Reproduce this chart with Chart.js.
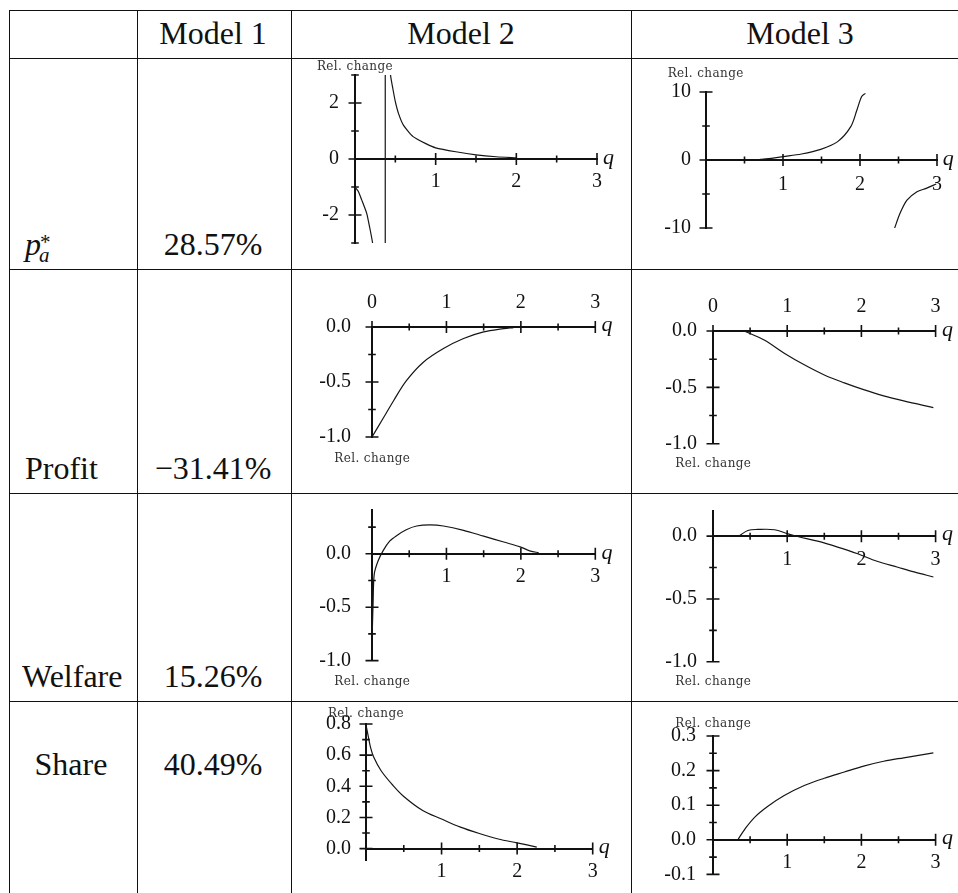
<!DOCTYPE html>
<html><head><meta charset="utf-8">
<script src="https://cdn.jsdelivr.net/npm/chart.js@4.4.0/dist/chart.umd.min.js"></script>
<style>
html,body{margin:0;padding:0;background:#fff;width:958px;height:893px;overflow:hidden;position:relative;font-family:'Liberation Serif',serif;color:#111}
.hl{position:absolute;height:1px;background:#111}
.vl{position:absolute;width:1px;background:#111}
.t{position:absolute;font-size:32px;line-height:32px;white-space:nowrap}
.cv{position:absolute}
.rel{position:absolute;font-family:'DejaVu Serif',serif;font-size:12px;letter-spacing:0.4px;color:#333;white-space:nowrap;transform:translate(-50%,-50%);line-height:1}
.q{position:absolute;font-family:'Liberation Serif',serif;font-style:italic;font-size:22px;line-height:22px;color:#111}
</style></head><body>
<script>
// ---------- table text ----------
const columnHeaders = ['Model 1', 'Model 2', 'Model 3'];
const rowLabels = ['p', 'Profit', 'Welfare', 'Share'];
const model1Values = ['28.57%', '\u221231.41%', '15.26%', '40.49%'];

// ---------- tick labels ----------
const qLabelsBelow = [1, 2, 3];
const qLabelsAbove = [0, 1, 2, 3];
const m2PriceYLabels = [-2, 0, 2];
const m3PriceYLabels = [-10, 0, 10];
const profitYLabels = [-1, -0.5, 0];
const welfareYLabels = [-1, -0.5, 0];
const m2ShareYLabels = [0, 0.2, 0.4, 0.6, 0.8];
const m3ShareYLabels = [-0.1, 0, 0.1, 0.2, 0.3];
const yAxisTitle = 'Rel. change';
const xAxisTitle = 'q';

// ---------- series (q, relative change); null = break ----------
const m2PriceQ   = [0, 0.04, 0.083, 0.145, 0.186, 0.218, 0.24, 0.3, 0.375, 0.375, 0.4, 0.43, 0.44, 0.47, 0.5, 0.54, 0.6, 0.72, 0.885, 1.0, 1.25, 1.5, 1.75, 2.0];
const m2PriceVal = [-1, -1.15, -1.46, -1.94, -2.5, -3.0, -3.5, null, -3.3, 3.3, null, 3.6, 3.0, 2.5, 2.05, 1.62, 1.21, 0.80, 0.54, 0.40, 0.26, 0.15, 0.08, 0.04];

const m3PriceQ   = [0.7, 0.85, 1.0, 1.24, 1.49, 1.71, 1.88, 1.96, 2.02, 2.07, 2.2, 2.45, 2.52, 2.61, 2.74, 2.86, 2.99];
const m3PriceVal = [0.1, 0.25, 0.49, 0.88, 1.57, 2.7, 4.9, 7.35, 9.3, 9.8, null, -10, -7.84, -5.9, -4.66, -4.17, -3.53];

const m2ProfitQ   = [0, 0.15, 0.29, 0.46, 0.69, 0.96, 1.23, 1.5, 1.77, 1.9];
const m2ProfitVal = [-1.0, -0.83, -0.67, -0.49, -0.32, -0.196, -0.105, -0.045, -0.015, -0.005];

const m3ProfitQ   = [0.42, 0.69, 0.96, 1.23, 1.5, 1.77, 2.03, 2.30, 2.57, 2.97];
const m3ProfitVal = [0, -0.08, -0.197, -0.30, -0.39, -0.46, -0.52, -0.575, -0.62, -0.68];

const m2WelfareQ   = [0.005, 0.015, 0.03, 0.08, 0.15, 0.24, 0.33, 0.46, 0.6, 0.78, 0.96, 1.23, 1.5, 1.77, 1.99, 2.13, 2.24];
const m2WelfareVal = [-0.7, -0.45, -0.19, -0.07, 0.03, 0.12, 0.17, 0.225, 0.26, 0.27, 0.26, 0.22, 0.165, 0.11, 0.065, 0.025, 0.01];

const m3WelfareQ   = [0.36, 0.47, 0.6, 0.83, 1.0, 1.14, 1.41, 1.68, 1.95, 2.21, 2.48, 2.71, 2.97];
const m3WelfareVal = [0.005, 0.045, 0.053, 0.051, 0.02, -0.003, -0.04, -0.087, -0.14, -0.20, -0.246, -0.285, -0.325];

const m2ShareQ   = [0, 0.03, 0.06, 0.1, 0.2, 0.35, 0.5, 0.75, 1.0, 1.25, 1.5, 1.75, 2.0, 2.26];
const m2ShareVal = [0.795, 0.72, 0.65, 0.59, 0.50, 0.41, 0.335, 0.245, 0.19, 0.138, 0.097, 0.062, 0.037, 0.01];

const m3ShareQ   = [0.34, 0.43, 0.56, 0.74, 0.96, 1.23, 1.5, 1.77, 2.03, 2.3, 2.57, 2.97];
const m3ShareVal = [0.002, 0.031, 0.065, 0.097, 0.128, 0.157, 0.178, 0.196, 0.213, 0.227, 0.237, 0.251];

// ---------- layout (page pixels of each plot box) ----------
const specs = [
  {q:m2PriceQ,  v:m2PriceVal,  L:355,   R:597,   T:75,    B:243,   ymin:-3,   ymax:3,    yStep:1,    yLabels:m2PriceYLabels, dec:0, xTop:false, xLabels:qLabelsBelow, relAt:'top', relDy:-9,  yPad:16, xPad:11, tension:0.2},
  {q:m3PriceQ,  v:m3PriceVal,  L:705.7, R:936.7, T:92.3,  B:228.3, ymin:-10,  ymax:10,   yStep:5,    yLabels:m3PriceYLabels, dec:0, xTop:false, xLabels:qLabelsBelow, relAt:'top', relDy:-19, yPad:15, xPad:13, tension:0.3},
  {q:m2ProfitQ, v:m2ProfitVal, L:372.3, R:595,   T:326.7, B:436.7, ymin:-1,   ymax:0,    yStep:0.25, yLabels:profitYLabels,  dec:1, xTop:true,  xLabels:qLabelsAbove, relAt:'bottom', relDy:21, yPad:21, xPad:12, tension:0.35},
  {q:m3ProfitQ, v:m3ProfitVal, L:713.3, R:936.7, T:331,   B:444.3, ymin:-1,   ymax:0,    yStep:0.25, yLabels:profitYLabels,  dec:1, xTop:true,  xLabels:qLabelsAbove, relAt:'bottom', relDy:19, yPad:16, xPad:12, tension:0.35},
  {q:m2WelfareQ,v:m2WelfareVal,L:372.3, R:595,   T:510.3, B:661.7, ymin:-1,   ymax:0.41, yStep:0.25, yLabels:welfareYLabels, dec:1, xTop:false, xLabels:qLabelsBelow, relAt:'bottom', relDy:20, yPad:21, xPad:11, tension:0.3},
  {q:m3WelfareQ,v:m3WelfareVal,L:713.3, R:936.7, T:510.5, B:661.7, ymin:-1,   ymax:0.2,  yStep:0.25, yLabels:welfareYLabels, dec:1, xTop:false, xLabels:qLabelsBelow, relAt:'bottom', relDy:20, yPad:16, xPad:12, tension:0.35},
  {q:m2ShareQ,  v:m2ShareVal,  L:366,   R:593.3, T:724.3, B:860,   ymin:-0.075,ymax:0.8, yStep:0.1,  yLabels:m2ShareYLabels, dec:1, xTop:false, xLabels:qLabelsBelow, relAt:'top', relDy:-11, yPad:15, xPad:11, tension:0.35},
  {q:m3ShareQ,  v:m3ShareVal,  L:713.3, R:936.7, T:735.7, B:873.3, ymin:-0.1, ymax:0.3,  yStep:0.05, yLabels:m3ShareYLabels, dec:1, xTop:false, xLabels:qLabelsBelow, relAt:'top', relDy:-13, yPad:17, xPad:11, tension:0.35}
];

// ---------- table frame ----------
function hline(y, x1, x2){ const d=document.createElement('div'); d.className='hl'; d.style.left=x1+'px'; d.style.top=y+'px'; d.style.width=(x2-x1)+'px'; document.body.appendChild(d); }
function vline(x, y1, y2){ const d=document.createElement('div'); d.className='vl'; d.style.left=x+'px'; d.style.top=y1+'px'; d.style.height=(y2-y1)+'px'; document.body.appendChild(d); }
[10, 58, 269, 493, 701].forEach(y => hline(y, 9, 958));
[9, 137, 291, 631].forEach(x => vline(x, 10, 893));

function text(str, baseline, opts){
  const d = document.createElement('div');
  d.className = 't';
  d.textContent = str;
  const fs = opts.fs || 32;
  d.style.fontSize = fs + 'px'; d.style.lineHeight = fs + 'px';
  d.style.top = (baseline - 0.8375 * fs) + 'px';
  if (opts.italic) d.style.fontStyle = 'italic';
  if (opts.center !== undefined){ d.style.left = (opts.center - 150) + 'px'; d.style.width = '300px'; d.style.textAlign = 'center'; }
  else d.style.left = opts.left + 'px';
  document.body.appendChild(d);
  return d;
}
const headerCenters = [213, 461, 800];
columnHeaders.forEach((h, i) => text(h, 44, {center: headerCenters[i]}));

const rowBaselines = [255, 479, 687, 775];
// p_a^*
text(rowLabels[0], 255, {left: 25, italic: true});
text('*', 250, {left: 40, fs: 21});
text('a', 263, {left: 39, fs: 21, italic: true});
text(rowLabels[1], rowBaselines[1], {left: 25});
text(rowLabels[2], rowBaselines[2], {left: 22});
text(rowLabels[3], rowBaselines[3], {center: 71});
model1Values.forEach((v, i) => text(v, rowBaselines[i], {center: 213}));

// ---------- charts ----------
const crossTicks = {
  id: 'crossTicks',
  afterDraw(chart){
    const {ctx} = chart; const x = chart.scales.x, y = chart.scales.y;
    const x0 = x.getPixelForValue(0), y0 = y.getPixelForValue(0);
    ctx.save(); ctx.strokeStyle = '#111'; ctx.lineWidth = 1.6; ctx.beginPath();
    x.ticks.forEach(t => {
      if (t.value < x.min - 1e-9 || t.value > x.max + 1e-9) return;
      const px = x.getPixelForValue(t.value); const len = t.label ? 6 : 3.5;
      ctx.moveTo(px, y0 - len); ctx.lineTo(px, y0 + len);
    });
    y.ticks.forEach(t => {
      if (t.value < y.min - 1e-9 || t.value > y.max + 1e-9) return;
      const py = y.getPixelForValue(t.value); const len = t.label ? 6.5 : 3.8;
      ctx.moveTo(x0 - len, py); ctx.lineTo(x0 + len, py);
    });
    ctx.stroke(); ctx.restore();
  }
};

const has = (arr, v) => arr.some(t => Math.abs(t - v) < 1e-6);

specs.forEach(s => {
  const padL = 75, padR = 45, padT = 45, padB = 45;
  const yAxisW = 70, xAxisH = 40;
  const w = s.R - s.L, h = s.B - s.T;
  const cw = Math.round(w + padL + padR), ch = Math.round(h + padT + padB);
  const left = s.L - padL, top = s.T - padT;
  const cv = document.createElement('canvas');
  cv.className = 'cv'; cv.width = cw; cv.height = ch;
  cv.style.left = left + 'px'; cv.style.top = top + 'px';
  cv.style.width = cw + 'px'; cv.style.height = ch + 'px';
  document.body.appendChild(cv);
  const pts = s.q.map((x, i) => ({x: x, y: s.v[i]}));
  const tickFont = {family: 'Liberation Serif', size: 20};
  const chart = new Chart(cv, {
    type: 'scatter',
    data: {datasets: [{data: pts, showLine: true, borderColor: '#151515', borderWidth: 1.2, pointRadius: 0, spanGaps: false, tension: s.tension}]},
    options: {
      responsive: false, animation: false, devicePixelRatio: 1,
      layout: {padding: {
        left: padL - yAxisW,
        right: padR - (cw - (w + padL + padR)),
        top: s.xTop ? padT - xAxisH : padT,
        bottom: padB - (ch - (h + padT + padB))}},
      plugins: {legend: {display: false}, tooltip: {enabled: false}},
      scales: {
        x: {type: 'linear', min: 0, max: 3, position: s.xTop ? 'top' : {y: 0},
            afterFit: sc => { sc.height = s.xTop ? xAxisH : 0; },
            grid: {display: false, drawTicks: false},
            border: {display: true, color: '#111', width: 2},
            ticks: {stepSize: 0.5, includeBounds: false, autoSkip: false, maxRotation: 0, padding: s.xPad, font: tickFont, color: '#111',
                    callback: v => has(s.xLabels, v) ? String(Math.round(v)) : ''}},
        y: {type: 'linear', min: s.ymin, max: s.ymax, position: 'left',
            afterFit: sc => { sc.width = yAxisW; },
            grid: {display: false, drawTicks: false},
            border: {display: true, color: '#111', width: 2},
            ticks: {stepSize: s.yStep, includeBounds: false, autoSkip: false, padding: s.yPad, font: tickFont, color: '#111',
                    callback: v => has(s.yLabels, v) ? (s.dec ? (Math.round(v * 10) / 10).toFixed(1) : String(Math.round(v))) : ''}}
      }
    },
    plugins: [crossTicks]
  });
  const xs = chart.scales.x, ys = chart.scales.y;
  const rel = document.createElement('div');
  rel.className = 'rel'; rel.textContent = yAxisTitle;
  rel.style.left = (left + xs.getPixelForValue(0)) + 'px';
  rel.style.top = (top + (s.relAt === 'top' ? ys.top : ys.bottom) + s.relDy) + 'px';
  document.body.appendChild(rel);
  const q = document.createElement('div');
  q.className = 'q'; q.textContent = xAxisTitle;
  q.style.left = (left + xs.getPixelForValue(3) + 6) + 'px';
  q.style.top = (top + ys.getPixelForValue(0) + 5 - 0.8375 * 22) + 'px';
  document.body.appendChild(q);
});
</script>
</body></html>
